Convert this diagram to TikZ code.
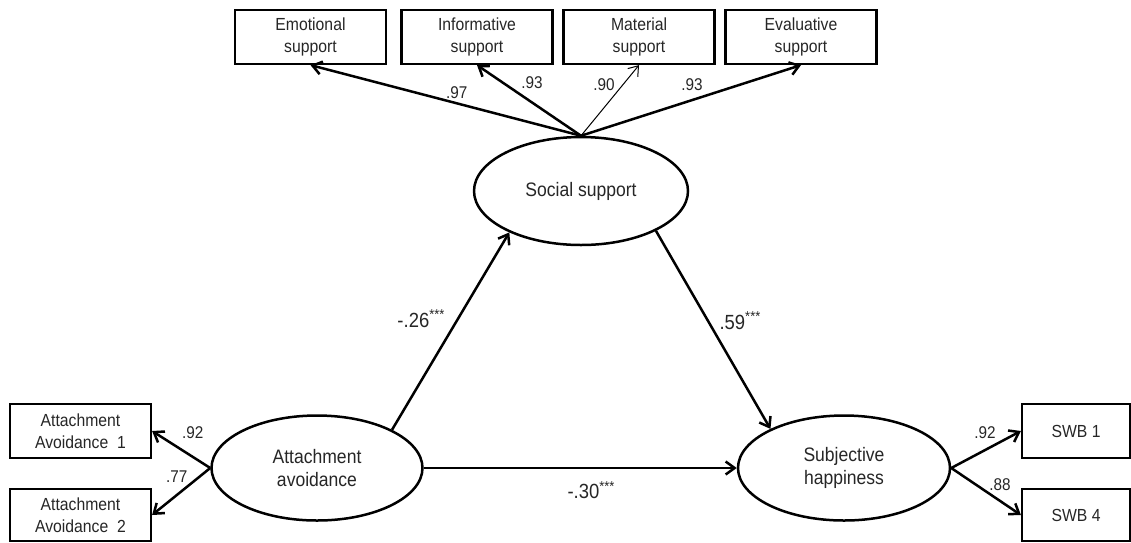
\documentclass[tikz,border=0pt]{standalone}
\usepackage{fontspec}
\setmainfont[FakeStretch=0.9]{Liberation Sans}
\usepackage{tikz}
\usetikzlibrary{shapes,arrows.meta,positioning,calc}

\begin{document}
\begin{tikzpicture}[
    x=1pt, y=-1pt,
    box/.style={rectangle, draw, line width=2.2pt, minimum width=151pt, minimum height=54pt, inner sep=0pt, align=center, font=\fontsize{17.5}{21.5}\selectfont, text=black!85},
    latent/.style={ellipse, draw, line width=2.5pt, inner sep=0pt, minimum width=211pt, minimum height=105pt, align=center, font=\fontsize{19.5}{23}\selectfont, text=black!85},
    arrow/.style={-{Straight Barb[length=9pt,width=13pt]}, line width=2.5pt},
    thinarrow/.style={-{Straight Barb[length=9pt,width=13pt]}, line width=1pt},
    loadlbl/.style={font=\fontsize{17}{19}\selectfont, text=black!85, inner sep=0pt},
    coef/.style={font=\fontsize{20.5}{23}\selectfont, text=black!85, inner sep=0pt}
]
    \useasboundingbox (0,0) rectangle (1131,542);

    % latent variables
    \node[latent, minimum width=214pt, minimum height=108pt] (social) at (581,191) {Social support};
    \node[latent] (avoid) at (317,468) {Attachment\\avoidance};
    \node[latent, minimum width=212pt] (happy) at (844,468) {Subjective\\happiness};

    % indicators
    \node[box] (emo) at (310.5,37) {Emotional\\support};
    \node[box] (info) at (477,37) {Informative\\support};
    \node[box] (mat) at (639,37) {Material\\support};
    \node[box] (eval) at (801,37) {Evaluative\\support};
    \node[box, minimum width=141pt] (avo1) at (80.5,431) {Attachment\\Avoidance~~1};
    \node[box, minimum width=141pt, minimum height=52pt] (avo2) at (80.5,515) {Attachment\\Avoidance~~2};
    \node[box, minimum width=108pt] (swb1) at (1076,431) {SWB 1};
    \node[box, minimum width=108pt, minimum height=52pt] (swb4) at (1076,515) {SWB 4};

    % loadings
    \draw[arrow] (social.north) -- (emo.south) node[loadlbl, midway, xshift=11pt, yshift=7.5pt] {.97};
    \draw[arrow] (social.north) -- (info.south) node[loadlbl, midway, xshift=3pt, yshift=17.5pt] {.93};
    \draw[thinarrow] (social.north) -- (mat.south) node[loadlbl, midway, xshift=-6pt, yshift=15.5pt] {.90};
    \draw[arrow] (social.north) -- (eval.south) node[loadlbl, midway, xshift=1pt, yshift=15.5pt] {.93};
    \draw[arrow] (avoid.west) -- (avo1.east) node[loadlbl, midway, xshift=11.5pt, yshift=16.5pt] {.92};
    \draw[arrow] (avoid.west) -- (avo2.east) node[loadlbl, midway, xshift=-4.5pt, yshift=14.5pt] {.77};
    \draw[arrow] (happy.east) -- (swb1.west) node[loadlbl, midway, xshift=-1pt, yshift=16.5pt] {.92};
    \draw[arrow] (happy.east) -- (swb4.west) node[loadlbl, midway, xshift=14pt, yshift=6.5pt] {.88};

    % structural paths
    \draw[arrow] (avoid.27) -- (social.210) node[coef, midway, xshift=-29.5pt, yshift=12.5pt] {-.26\textsuperscript{***}};
    \draw[arrow] (social.-28) -- (happy.152) node[coef, midway, xshift=27pt, yshift=9pt] {.59\textsuperscript{***}};
    \draw[arrow] (avoid.east) -- (happy.west) node[coef, midway, xshift=11pt, yshift=-22pt] {-.30\textsuperscript{***}};
\end{tikzpicture}
\end{document}
